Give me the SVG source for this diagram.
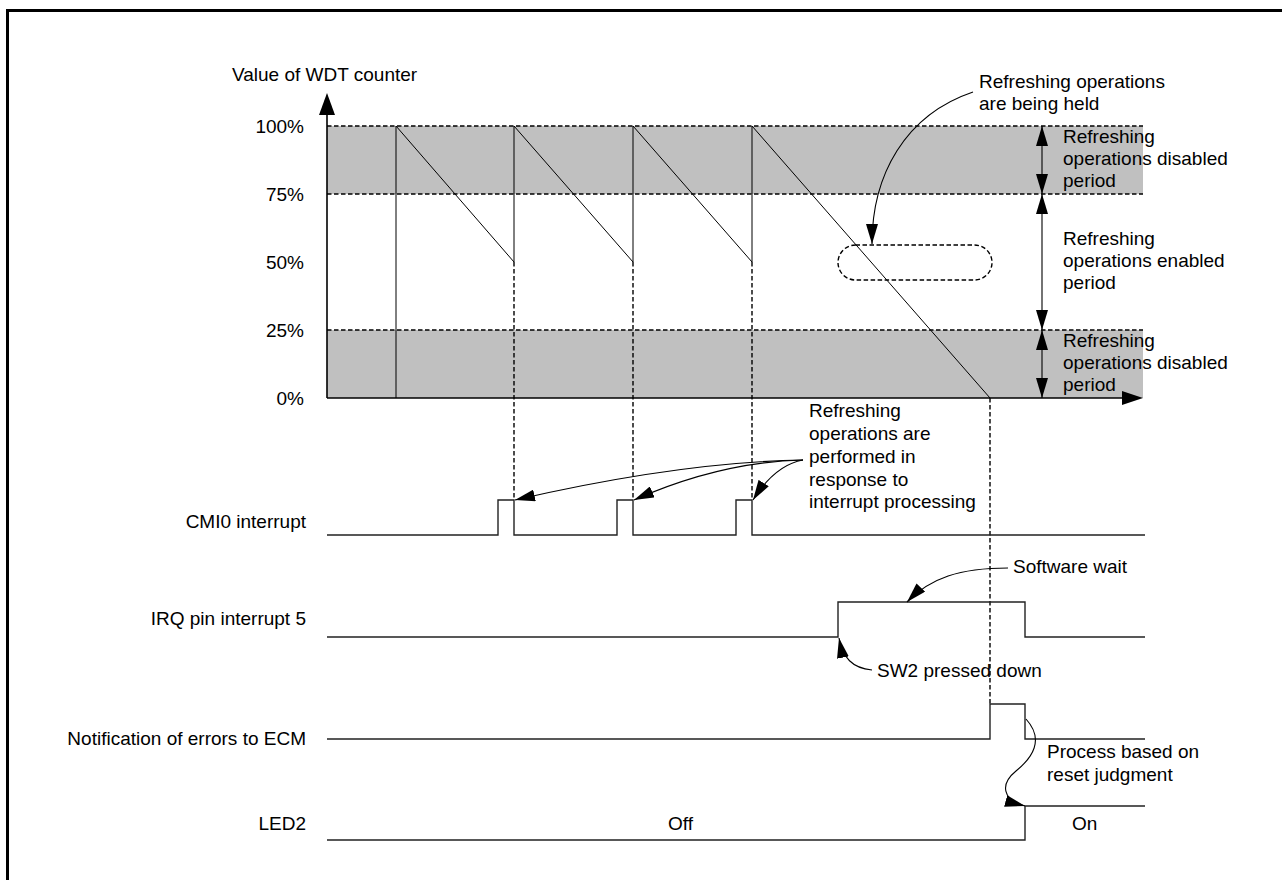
<svg xmlns="http://www.w3.org/2000/svg" width="1282" height="880" viewBox="0 0 1282 880">
<defs>
<style>
text{font-family:"Liberation Sans",Arial,sans-serif;font-size:19px;fill:#000}
.r{text-anchor:end}
.dash{stroke:#000;stroke-width:1.4;stroke-dasharray:4.5,2.5;fill:none}
.thin{stroke:#000;stroke-width:1;fill:none}
.sig{stroke:#222;stroke-width:1.4;fill:none}
.conn{stroke:#000;stroke-width:1.1;fill:none}
.band{fill:#c0c0c0}
</style>
<marker id="ah" viewBox="0 0 20 12" refX="20" refY="6" markerWidth="20" markerHeight="12" markerUnits="userSpaceOnUse" orient="auto-start-reverse">
<path d="M0,0 L20,6 L0,12 z" fill="#000"/>
</marker>
</defs>
<rect width="1282" height="880" fill="#fff"/>
<path d="M7.5 880 V10.5 H1282" fill="none" stroke="#000" stroke-width="3"/>

<g id="bands">
<rect class="band" x="327" y="126" width="816" height="68"/>
<rect class="band" x="327" y="330" width="816" height="68"/>
<line class="dash" x1="327" y1="126" x2="1143" y2="126"/>
<line class="dash" x1="327" y1="194" x2="1143" y2="194"/>
<line class="dash" x1="327" y1="330" x2="1143" y2="330"/>
</g>

<g id="axes">
<line x1="327" y1="110" x2="327" y2="398" stroke="#000" stroke-width="1.6"/>
<polygon points="327,93 335,115 319,115" fill="#000"/>
<line x1="327" y1="398" x2="1125" y2="398" stroke="#000" stroke-width="1.6"/>
<polygon points="1143,398 1122,391 1122,405" fill="#000"/>
<text x="232" y="81">Value of WDT counter</text>
<text class="r" x="304" y="133">100%</text>
<text class="r" x="304" y="201">75%</text>
<text class="r" x="304" y="269">50%</text>
<text class="r" x="304" y="337">25%</text>
<text class="r" x="304" y="405">0%</text>
</g>

<g id="sawtooth">
<path class="thin" d="M396 398 V126 L514 262 V126 L633 262 V126 L752 262 V126 L990 398"/>
<line class="dash" x1="514" y1="262" x2="514" y2="500"/>
<line class="dash" x1="633" y1="262" x2="633" y2="500"/>
<line class="dash" x1="752" y1="262" x2="752" y2="500"/>
<line class="dash" x1="990" y1="398" x2="990" y2="704"/>
</g>

<g id="held-zone">
<rect class="dash" x="838" y="245" width="154" height="35" rx="17.5" ry="17.5"/>
<text x="979" y="88">Refreshing operations</text>
<text x="979" y="110">are being held</text>
</g>

<g id="period-labels">
<text x="1063" y="143">Refreshing</text>
<text x="1063" y="165">operations disabled</text>
<text x="1063" y="187">period</text>
<text x="1063" y="245">Refreshing</text>
<text x="1063" y="267">operations enabled</text>
<text x="1063" y="289">period</text>
<text x="1063" y="347">Refreshing</text>
<text x="1063" y="369">operations disabled</text>
<text x="1063" y="391">period</text>
</g>

<g id="cmi0">
<text class="r" x="306" y="528">CMI0 interrupt</text>
<path class="sig" d="M327 535 H498 V500 H514 V535 H617 V500 H633 V535 H736 V500 H752 V535 H1145"/>
</g>

<g id="irq5">
<text class="r" x="306" y="625">IRQ pin interrupt 5</text>
<path class="sig" d="M327 637 H838 V602 H1025 V637 H1145"/>
</g>

<g id="ecm">
<text class="r" x="306" y="745">Notification of errors to ECM</text>
<path class="sig" d="M327 739 H990 V704 H1025 V739 H1145"/>
</g>

<g id="led2">
<text class="r" x="306" y="830">LED2</text>
<path class="sig" d="M327 840 H1025 V806 H1145"/>
<text x="668" y="830">Off</text>
<text x="1072" y="830">On</text>
</g>

<g id="refresh-note">
<text x="809" y="417">Refreshing</text>
<text x="809" y="440">operations are</text>
<text x="809" y="463">performed in</text>
<text x="809" y="486">response to</text>
<text x="809" y="508">interrupt processing</text>
</g>

<g id="sw-notes">
<text x="1013" y="573">Software wait</text>
<text x="877" y="677">SW2 pressed down</text>
<text x="1047" y="758">Process based on</text>
<text x="1047" y="781">reset judgment</text>
</g>

<g id="connectors">
<line class="conn" x1="1042" y1="126" x2="1042" y2="194" marker-start="url(#ah)" marker-end="url(#ah)"/>
<line class="conn" x1="1042" y1="194" x2="1042" y2="330" marker-start="url(#ah)" marker-end="url(#ah)"/>
<line class="conn" x1="1042" y1="330" x2="1042" y2="398" marker-start="url(#ah)" marker-end="url(#ah)"/>
<path class="conn" d="M973 92 C905 115 872 175 872 244" marker-end="url(#ah)"/>
<path class="conn" d="M803 460 Q680 462 515 500" marker-end="url(#ah)"/>
<path class="conn" d="M803 460 Q720 462 634 500" marker-end="url(#ah)"/>
<path class="conn" d="M803 460 Q775 465 753 500" marker-end="url(#ah)"/>
<path class="conn" d="M1008 568 C960 568 930 578 907 602" marker-end="url(#ah)"/>
<path class="conn" d="M872 670 C852 668 843 658 839 638" marker-end="url(#ah)"/>
<path class="conn" d="M1026 719 C1045 740 1032 758 1016 771 C1000 784 1002 800 1025 806" marker-end="url(#ah)"/>
</g>
</svg>
